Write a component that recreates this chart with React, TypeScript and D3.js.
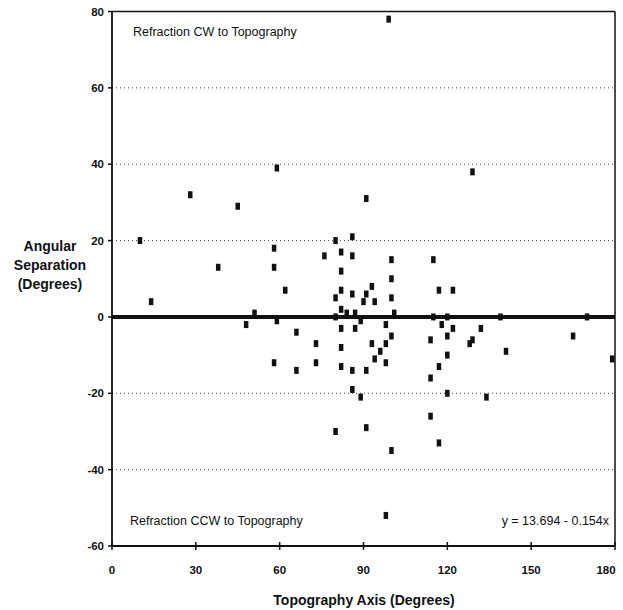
import { scaleLinear } from 'd3'

// Topography axis (deg) and angular separation (deg)
const TOPO = [
  10, 14, 28, 38, 45, 48, 51, 58, 58, 59, 59, 58, 62, 66, 66, 73, 73, 76, 80, 80, 80, 80,
  82, 82, 82, 82, 82, 82, 82, 84, 87, 86, 86, 86, 86, 86, 87, 91, 90, 89, 89, 91, 91, 91,
  93, 93, 94, 94, 96, 98, 98, 98, 98, 99, 100, 100, 100, 100, 100, 101, 114, 114, 114, 115,
  115, 117, 117, 117, 118, 120, 120, 120, 120, 122, 122, 128, 129, 129, 132, 134, 139, 141,
  165, 170, 179,
]
const SEP = [
  20, 4, 32, 13, 29, -2, 1, 18, 13, 39, -1, -12, 7, -4, -14, -7, -12, 16, 20, 5, 0, -30,
  17, 12, 7, 2, -3, -8, -13, 1, 1, 21, 16, 6, -14, -19, -3, 6, 4, -1, -21, 31, -14, -29,
  8, -7, 4, -11, -9, -2, -7, -12, -52, 78, 15, 10, 5, -5, -35, 1, -6, -16, -26, 15,
  0, 7, -13, -33, -2, 0, -5, -10, -20, 7, -3, -7, -6, 38, -3, -21, 0, -9,
  -5, 0, -11,
]
const X_TICKS = [0, 30, 60, 90, 120, 150, 180]
const Y_TICKS = [80, 60, 40, 20, 0, -20, -40, -60]
const GRID = [60, 40, 20, -20, -40]

const W = 623
const H = 610
const FONT = 'Liberation Sans, Arial, sans-serif'

export default function App() {
  const x = scaleLinear().domain([0, 180]).range([112, 615])
  const y = scaleLinear().domain([-60, 80]).range([546, 11.5])

  return (
    <svg width={W} height={H} style={{ position: 'absolute', left: 0, top: 0, background: '#fff' }}>
      {/* dotted gridlines */}
      {GRID.map((g) => (
        <line key={g} x1={x(0)} x2={x(180)} y1={y(g)} y2={y(g)} stroke="#444" strokeWidth={1} strokeDasharray="1 3" />
      ))}

      {/* frame */}
      <line x1={x(0)} x2={x(180)} y1={y(80)} y2={y(80)} stroke="#111" strokeWidth={1.5} />
      <line x1={x(180)} x2={x(180)} y1={y(80)} y2={y(-60)} stroke="#111" strokeWidth={1.5} />
      <line x1={x(0)} x2={x(0)} y1={y(80)} y2={y(-60)} stroke="#111" strokeWidth={1.8} />
      <line x1={x(0)} x2={x(180)} y1={y(-60)} y2={y(-60)} stroke="#111" strokeWidth={1.8} />

      {/* zero line */}
      <line x1={x(0)} x2={x(180)} y1={y(0)} y2={y(0)} stroke="#111" strokeWidth={4} />

      {/* ticks */}
      {X_TICKS.map((t) => (
        <g key={t}>
          <line x1={x(t)} x2={x(t)} y1={y(-60) - 4} y2={y(-60) + 4} stroke="#111" strokeWidth={1.5} />
          <text x={Math.min(x(t), 606)} y={y(-60) + 28} textAnchor="middle" fontFamily={FONT} fontWeight="bold" fontSize={11.5} fill="#111">
            {t}
          </text>
        </g>
      ))}
      {Y_TICKS.map((t) => (
        <g key={t}>
          <line x1={x(0) - 4} x2={x(0)} y1={y(t)} y2={y(t)} stroke="#111" strokeWidth={1.5} />
          <text x={x(0) - 8} y={y(t) + 4} textAnchor="end" fontFamily={FONT} fontWeight="bold" fontSize={11.5} fill="#111">
            {t}
          </text>
        </g>
      ))}

      {/* points */}
      {TOPO.map((t, i) => (
        <rect key={i} x={x(t) - 2.25} y={y(SEP[i]) - 3.5} width={4.5} height={7} fill="#111" />
      ))}

      {/* annotations */}
      <text x={133} y={36} fontFamily={FONT} fontSize={12.5} fill="#111">Refraction CW to Topography</text>
      <text x={130} y={525} fontFamily={FONT} fontSize={12.5} fill="#111">Refraction CCW to Topography</text>
      <text x={609} y={525} textAnchor="end" fontFamily={FONT} fontSize={12.5} fill="#111">y = 13.694 - 0.154x</text>

      {/* axis titles */}
      <text x={50} textAnchor="middle" fontFamily={FONT} fontWeight="bold" fontSize={14} fill="#111">
        <tspan x={50} y={251}>Angular</tspan>
        <tspan x={50} y={270}>Separation</tspan>
        <tspan x={50} y={289}>(Degrees)</tspan>
      </text>
      <text x={364} y={605} textAnchor="middle" fontFamily={FONT} fontWeight="bold" fontSize={14} fill="#111">
        Topography Axis (Degrees)
      </text>
    </svg>
  )
}
